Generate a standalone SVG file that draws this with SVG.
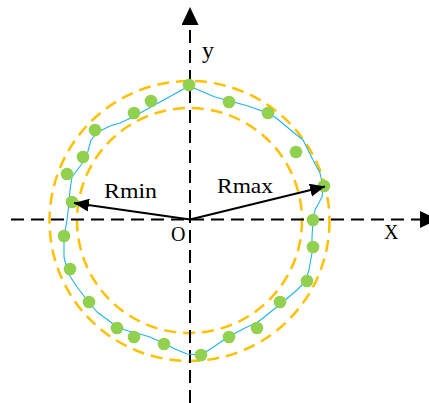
<svg xmlns="http://www.w3.org/2000/svg" width="429" height="403" viewBox="0 0 429 403">
<style>
.bound{fill:none;stroke:#FFC000;stroke-width:2.5;stroke-dasharray:12 7}
.axis{stroke:#000;stroke-width:2;stroke-dasharray:13 7;fill:none}
.prof{fill:none;stroke:#1FB4E8;stroke-width:1.1;stroke-linejoin:round}
.pt{fill:#92D050}
.rad{stroke:#000;stroke-width:2;fill:none}
.lbl{font-family:"Liberation Serif","Times New Roman",serif;fill:#000}
</style>
<defs>
<marker id="axhead" markerUnits="userSpaceOnUse" markerWidth="19" markerHeight="18" refX="18" refY="8.5" orient="auto" viewBox="0 0 19 18">
<path d="M0,0 L18,8.5 L0,17 z" fill="#000" stroke="none"/>
</marker>
<marker id="rhead" markerUnits="userSpaceOnUse" markerWidth="16" markerHeight="14" refX="15" refY="6.5" orient="auto" viewBox="0 0 16 14">
<path d="M0,0 L15,6.5 L0,13 z" fill="#000" stroke="none"/>
</marker>
</defs>
<g id="bounds">
<circle class="bound" cx="189.5" cy="221" r="140"/>
<circle class="bound" cx="189.5" cy="220.5" r="112.5"/>
</g>
<g id="axes">
<line class="axis" x1="11" y1="219.5" x2="438" y2="219.5" marker-end="url(#axhead)"/>
<line class="axis" x1="190" y1="403" x2="190" y2="7" marker-end="url(#axhead)"/>
</g>
<g id="profile">
<polyline class="prof" points="189,86 215,97 230,101 248,106 262,111 275,117 287,127 303,140 313,160 320,173 323,187 322,197 315,210 313,220 312,237 312,253 309,270 305,282 297,290 283,302 273,310 258,322 245,328 228,337 215,346 201,355 187,354 175,349 163,343 150,337 140,334 125,330 112,323 97,312 87,300 77,287 68,273 64,257 64,237 67,220 69,203 70,190 72,177 78,169 84,161 88,151 91,140 98,132 110,126 120,123 133,117 160,102 189,86"/>
</g>
<g id="points">
<circle class="pt" cx="189" cy="85" r="6.3"/>
<circle class="pt" cx="151" cy="101" r="6.3"/>
<circle class="pt" cx="134" cy="113" r="6.3"/>
<circle class="pt" cx="95" cy="130" r="6.3"/>
<circle class="pt" cx="83" cy="157" r="6.3"/>
<circle class="pt" cx="67" cy="174" r="6.3"/>
<circle class="pt" cx="72" cy="202" r="6.3"/>
<circle class="pt" cx="64" cy="236" r="6.3"/>
<circle class="pt" cx="70" cy="269" r="6.3"/>
<circle class="pt" cx="89" cy="302" r="6.3"/>
<circle class="pt" cx="117" cy="328" r="6.3"/>
<circle class="pt" cx="134" cy="337" r="6.3"/>
<circle class="pt" cx="164" cy="344" r="6.3"/>
<circle class="pt" cx="201" cy="355" r="6.3"/>
<circle class="pt" cx="229" cy="337" r="6.3"/>
<circle class="pt" cx="257" cy="328" r="6.3"/>
<circle class="pt" cx="280" cy="302" r="6.3"/>
<circle class="pt" cx="307" cy="281" r="6.3"/>
<circle class="pt" cx="313" cy="247" r="6.3"/>
<circle class="pt" cx="313" cy="220" r="6.3"/>
<circle class="pt" cx="324" cy="186" r="6.3"/>
<circle class="pt" cx="296" cy="152" r="6.3"/>
<circle class="pt" cx="268" cy="113" r="6.3"/>
<circle class="pt" cx="229" cy="102" r="6.3"/>
</g>
<g id="radii">
<line class="rad" x1="190" y1="219.5" x2="74" y2="203" marker-end="url(#rhead)"/>
<line class="rad" x1="190" y1="219.5" x2="325" y2="186.5" marker-end="url(#rhead)"/>
</g>
<g id="labels">
<text class="lbl" x="202" y="58" font-size="24">y</text>
<text class="lbl" x="104" y="198" font-size="21" textLength="53" lengthAdjust="spacingAndGlyphs">Rmin</text>
<text class="lbl" x="217" y="193" font-size="21" textLength="56" lengthAdjust="spacingAndGlyphs">Rmax</text>
<text class="lbl" x="171" y="241" font-size="20">O</text>
<text class="lbl" x="384" y="239" font-size="20">X</text>
</g>
</svg>
